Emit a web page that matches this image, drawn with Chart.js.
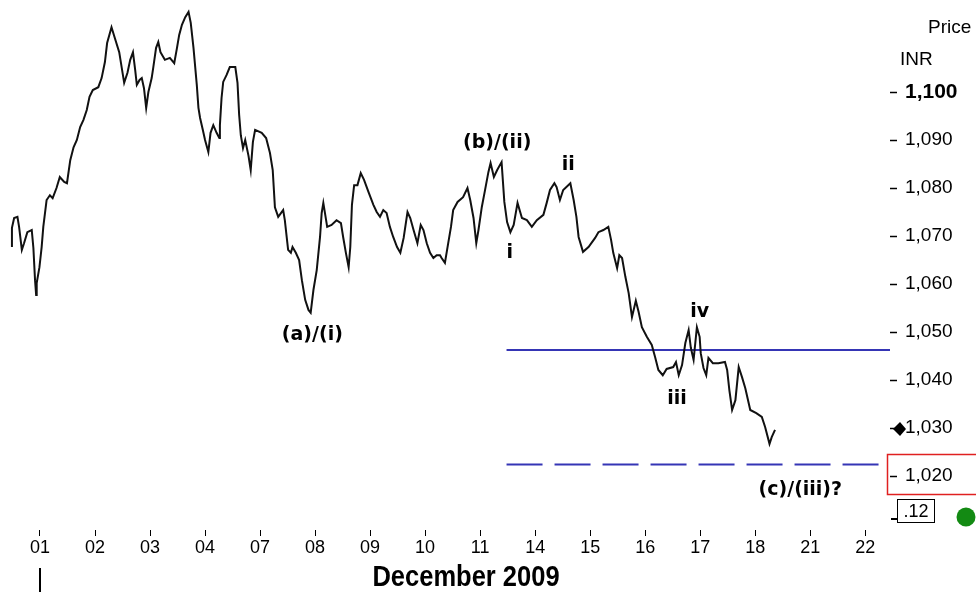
<!DOCTYPE html>
<html>
<head>
<meta charset="utf-8">
<script src="https://cdn.jsdelivr.net/npm/chart.js@4.4.1/dist/chart.umd.min.js"></script>
<style>
  html, body { margin: 0; padding: 0; background: #fff; }
  #wrap { width: 976px; height: 594px; }
</style>
</head>
<body>
<div id="wrap"><canvas id="priceChart"></canvas></div>
<script>
// trading days on the axis (Dec 2009), one slot per day
const xLabels = ["01", "02", "03", "04", "07", "08", "09", "10", "11", "14", "15", "16", "17", "18", "21", "22"];
const yTicks = [1020, 1030, 1040, 1050, 1060, 1070, 1080, 1090, 1100];

// time in trading-day slots (0 = open of Dec 01), intraday points
const times = [
  -0.01, -0.01, 0.03, 0.09, 0.12, 0.17, 0.21, 0.27, 0.35, 0.38, 0.41, 0.43, 0.44, 0.49, 0.53, 0.56, 0.62, 0.68, 0.73, 0.80, 0.86, 0.94, 0.99,
  1.05, 1.11, 1.17, 1.23, 1.29, 1.35, 1.40, 1.46, 1.56, 1.62, 1.68, 1.72, 1.80, 1.86, 1.94,
  2.03, 2.09, 2.14, 2.19, 2.23, 2.26, 2.31, 2.35, 2.39, 2.43, 2.47, 2.53, 2.56, 2.61, 2.65, 2.69, 2.77, 2.86, 2.94, 2.99,
  3.03, 3.08, 3.14, 3.20, 3.24, 3.29, 3.35, 3.38, 3.41, 3.46, 3.50, 3.56, 3.60, 3.65, 3.71, 3.76, 3.77, 3.80, 3.83, 3.89, 3.95,
  4.05, 4.09, 4.12, 4.15, 4.19, 4.23, 4.29, 4.33, 4.37, 4.41, 4.53, 4.61, 4.68, 4.73, 4.77, 4.83, 4.92, 4.95,
  5.01, 5.06, 5.09, 5.15, 5.21, 5.26, 5.32, 5.38, 5.42, 5.47, 5.53, 5.59, 5.62, 5.65, 5.72, 5.80, 5.89, 5.97,
  6.01, 6.06, 6.11, 6.14, 6.17, 6.21, 6.27, 6.33, 6.39, 6.47, 6.56, 6.62, 6.68, 6.74, 6.80, 6.86, 6.92, 6.99,
  7.05, 7.11, 7.18, 7.23, 7.29, 7.36, 7.42, 7.47, 7.53, 7.59, 7.65, 7.71, 7.77, 7.80, 7.86, 7.92, 7.97,
  8.01, 8.09, 8.19, 8.27, 8.32, 8.38, 8.43, 8.47, 8.53, 8.59, 8.65, 8.69, 8.75, 8.81, 8.89, 8.94, 8.99,
  9.05, 9.11, 9.18, 9.26, 9.35, 9.44, 9.53, 9.65, 9.71, 9.77, 9.85, 9.89, 9.95,
  10.01, 10.14, 10.20, 10.25, 10.29, 10.37, 10.47, 10.59, 10.65, 10.74, 10.83, 10.88, 10.92, 10.99,
  11.03, 11.08, 11.14, 11.20, 11.26, 11.33, 11.38, 11.44, 11.53, 11.62, 11.68, 11.74, 11.82, 11.89,
  12.01, 12.06, 12.11, 12.17, 12.23, 12.29, 12.33, 12.38, 12.44, 12.49, 12.51, 12.56, 12.61, 12.65, 12.73, 12.83, 12.95, 12.99,
  13.03, 13.08, 13.14, 13.20, 13.26, 13.32, 13.41, 13.52, 13.62, 13.68, 13.76, 13.80, 13.86
];

// price in INR
const prices = [
  1067.7, 1071.7, 1073.75, 1074.0, 1071.9, 1067.1, 1068.5, 1070.8, 1071.25, 1067.5, 1060.8, 1057.7, 1060.2, 1063.5, 1067.7, 1071.9, 1077.5, 1078.5, 1077.9, 1080.0, 1082.3, 1081.25, 1081.0,
  1085.8, 1088.5, 1090.0, 1092.7, 1094.2, 1096.25, 1099.0, 1100.4, 1101.0, 1102.9, 1106.25, 1110.2, 1113.5, 1111.25, 1108.3,
  1101.9, 1104.0, 1106.7, 1108.3, 1104.6, 1101.5, 1102.5, 1102.9, 1100.8, 1096.7, 1100.0, 1102.9, 1105.2, 1109.2, 1110.4, 1108.3, 1106.7, 1107.1, 1106.0, 1109.2,
  1111.9, 1114.0, 1115.6, 1116.7, 1114.4, 1109.2, 1101.5, 1096.7, 1094.6, 1092.1, 1090.0, 1087.5, 1091.5, 1093.1, 1091.5, 1090.4, 1093.1, 1098.75, 1102.1, 1103.5, 1105.2,
  1105.2, 1101.9, 1095.2, 1091.0, 1088.3, 1090.0, 1086.7, 1083.75, 1089.6, 1092.1, 1091.5, 1090.4, 1087.3, 1083.75, 1076.0, 1074.0, 1075.4, 1073.3,
  1067.1, 1066.5, 1067.7, 1066.5, 1065.0, 1060.8, 1056.7, 1054.6, 1054.0, 1058.75, 1062.9, 1069.8, 1074.8, 1076.9, 1071.9, 1072.3, 1073.3, 1072.7,
  1069.8, 1066.5, 1063.5, 1067.7, 1076.5, 1080.6, 1080.6, 1083.1, 1081.7, 1079.2, 1076.5, 1075.0, 1074.0, 1075.4, 1074.8, 1071.9, 1069.8, 1067.7,
  1066.5, 1069.6, 1075.0, 1073.75, 1071.25, 1068.5, 1072.3, 1071.25, 1068.5, 1066.5, 1065.4, 1066.0, 1066.0, 1065.4, 1064.4, 1068.5, 1071.9,
  1075.4, 1077.1, 1078.1, 1080.0, 1077.5, 1073.75, 1068.5, 1071.25, 1076.0, 1079.6, 1083.3, 1085.2, 1082.3, 1083.75, 1085.4, 1077.1, 1072.9,
  1070.8, 1072.3, 1076.9, 1073.75, 1073.3, 1071.9, 1073.3, 1074.4, 1076.9, 1079.6, 1081.0, 1080.2, 1077.5,
  1079.6, 1081.0, 1077.5, 1074.0, 1069.8, 1066.7, 1067.7, 1069.6, 1070.8, 1071.25, 1071.9, 1069.2, 1066.5, 1063.3,
  1066.0, 1065.4, 1061.5, 1058.1, 1053.1, 1056.5, 1054.2, 1051.0, 1049.0, 1047.3, 1044.8, 1042.1, 1041.0, 1042.3,
  1042.7, 1043.75, 1041.0, 1043.1, 1047.7, 1050.4, 1046.7, 1044.2, 1051.0, 1049.0, 1045.6, 1042.5, 1041.0, 1044.6, 1043.5, 1043.5, 1043.75, 1042.1,
  1037.9, 1033.75, 1035.8, 1042.7, 1040.6, 1038.3, 1033.75, 1033.1, 1032.3, 1030.2, 1026.7, 1028.1, 1029.6
];

// Elliott wave counts written on the chart
const waveNames = ["(a)/(i)", "(b)/(ii)", "i", "ii", "iii", "iv", "(c)/(iii)?"];
const waveDays = [5.45, 8.81, 9.04, 10.1, 12.08, 12.49, 14.32];
const wavePrices = [1049.4, 1089.3, 1066.5, 1084.8, 1036.0, 1054.2, 1017.1];

// horizontal levels
const levelStart = 8.98;
const solidLevel = 1046.25;
const dashedLevel = 1022.4;
const dashedEnd = 15.77;
const boxedTick = 1020;
const lastTag = ".12";

const xMin = -0.227, xMax = 15.95;
const yMin = 1008.75, yMax = 1119.17;

const labelsPlugin = {
  id: "waveLabels",
  afterDatasetsDraw(chart) {
    const { ctx, scales: { x, y } } = chart;
    ctx.save();
    ctx.font = "bold 19px 'DejaVu Sans'";
    ctx.fillStyle = "#000";
    ctx.textAlign = "center";
    ctx.textBaseline = "middle";
    waveNames.forEach((name, i) => {
      ctx.fillText(name, x.getPixelForValue(waveDays[i]), y.getPixelForValue(wavePrices[i]));
    });
    ctx.restore();
  }
};

const extrasPlugin = {
  id: "extras",
  afterDraw(chart) {
    const { ctx, chartArea, scales: { x, y } } = chart;
    const right = chartArea.right;
    ctx.save();
    ctx.fillStyle = "#000";
    ctx.textBaseline = "middle";
    ctx.font = "19px 'Liberation Sans'";
    ctx.fillText("Price", right + 38, 28);
    ctx.fillText("INR", right + 10, 60);

    // last price marker
    const lastY = y.getPixelForValue(prices[prices.length - 1]) - 1;
    ctx.beginPath();
    ctx.moveTo(right + 3, lastY);
    ctx.lineTo(right + 10, lastY - 7);
    ctx.lineTo(right + 16, lastY);
    ctx.lineTo(right + 10, lastY + 7);
    ctx.closePath();
    ctx.fill();

    // red box round the 1,020 tick
    const boxY = y.getPixelForValue(boxedTick);
    ctx.strokeStyle = "#e02020";
    ctx.lineWidth = 1.5;
    ctx.strokeRect(right - 2.5, boxY - 21.5, 100, 40);

    // small tag under the axis
    const tagY = y.getPixelForValue(yMin) - 19;
    ctx.strokeStyle = "#000";
    ctx.lineWidth = 1;
    ctx.strokeRect(right + 7.5, tagY - 11.5, 37, 23);
    ctx.font = "18px 'Liberation Sans'";
    ctx.textAlign = "center";
    ctx.fillText(lastTag, right + 26, tagY + 1);
    ctx.fillRect(right + 1, tagY + 7, 6, 2);

    // green status dot
    ctx.fillStyle = "#138a13";
    ctx.beginPath();
    ctx.arc(966, 517, 9.5, 0, Math.PI * 2);
    ctx.fill();

    // month caption (condensed) and separator
    ctx.fillStyle = "#000";
    ctx.font = "bold 30px 'Liberation Sans'";
    ctx.save();
    ctx.translate(466, 578);
    ctx.scale(0.85, 1);
    ctx.fillText("December 2009", 0, 0);
    ctx.restore();
    const sepX = x.getPixelForValue(0.5);
    ctx.fillRect(sepX - 1, 568, 2, 24);
    ctx.restore();
  }
};

new Chart(document.getElementById("priceChart"), {
  type: "line",
  data: {
    datasets: [
      {
        data: times.map((t, i) => ({ x: t, y: prices[i] })),
        borderColor: "#111",
        borderWidth: 2,
        pointRadius: 0,
        tension: 0
      },
      {
        data: [{ x: levelStart, y: solidLevel }, { x: xMax, y: solidLevel }],
        borderColor: "#3535b5",
        borderWidth: 2,
        pointRadius: 0
      },
      {
        data: [{ x: levelStart, y: dashedLevel }, { x: dashedEnd, y: dashedLevel }],
        borderColor: "#3535b5",
        borderWidth: 2,
        borderDash: [36, 12],
        pointRadius: 0
      }
    ]
  },
  options: {
    responsive: true,
    maintainAspectRatio: false,
    animation: false,
    devicePixelRatio: 1,
    layout: { padding: 0 },
    plugins: { legend: { display: false }, tooltip: { enabled: false } },
    scales: {
      x: {
        type: "linear",
        min: xMin,
        max: xMax,
        border: { display: false },
        grid: { drawOnChartArea: false, tickLength: 6, tickColor: "#000", tickWidth: 1 },
        afterBuildTicks: scale => { scale.ticks = xLabels.map((_, i) => ({ value: i + 0.5 })); },
        afterFit: scale => { scale.height = 64; scale.paddingLeft = 0; scale.paddingRight = 0; },
        ticks: {
          autoSkip: false,
          maxRotation: 0,
          padding: 1,
          color: "#000",
          font: { family: "'Liberation Sans'", size: 18 },
          callback: (v, i) => xLabels[i]
        }
      },
      y: {
        position: "right",
        min: yMin,
        max: yMax,
        border: { display: false },
        grid: { drawOnChartArea: false, tickLength: 7, tickColor: "#000", tickWidth: 1.5 },
        afterBuildTicks: scale => { scale.ticks = yTicks.map(v => ({ value: v })); },
        afterFit: scale => { scale.width = 86; scale.paddingTop = 0; scale.paddingBottom = 0; },
        ticks: {
          padding: 8,
          color: "#000",
          font: ctx => ctx.tick && ctx.tick.value === 1100
            ? { family: "'Liberation Sans'", size: 21, weight: "bold" }
            : { family: "'Liberation Sans'", size: 19 },
          callback: v => v.toLocaleString("en-US")
        }
      }
    }
  },
  plugins: [labelsPlugin, extrasPlugin]
});
</script>
</body>
</html>
